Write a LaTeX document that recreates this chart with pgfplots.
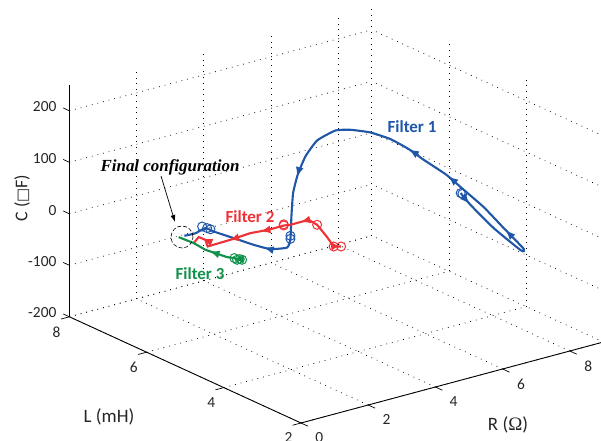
\documentclass[border=0pt]{standalone}
\usepackage{pgfplots}
\pgfplotsset{compat=1.18}
\usepackage{fontspec}
\setmainfont{Carlito}
\newfontfamily\timesf{Liberation Serif}
\newfontfamily\symf{DejaVu Sans}
\usetikzlibrary{decorations.markings,arrows.meta}
\definecolor{fblue}{HTML}{1F56A8}
\definecolor{fred}{HTML}{EE3338}
\definecolor{fgreen}{HTML}{11924B}
\tikzset{tk/.style={black,line width=0.7bp}}
\newcommand{\ah}{\arrow{Latex[length=10bp,width=8bp]}}
\begin{document}
\begin{tikzpicture}[x=1bp,y=1bp]
\path[use as bounding box] (0,0) rectangle (601,441);
\begin{axis}[
  at={(301bp,121bp)}, anchor=origin,
  x={(33.6bp,9bp)}, y={(-38.6bp,17.7bp)}, z={(0bp,0.515bp)},
  xmin=0, xmax=9, ymin=2, ymax=8, zmin=-200, zmax=250,
  xtick={0,2,4,6,8}, ytick={2,4,6,8}, ztick={-200,-100,0,100,200},
  axis lines*=left,
  tick align=outside,
  major tick length=6bp,
  major tick style={draw=none},
  axis line style={black,line width=0.9bp},
  grid=major,
  major grid style={black,line width=0.7bp,dash pattern=on 0.8bp off 5bp},
  clip=false,
  /pgf/number format/assume math mode=true,
  tick label style={font=\fontsize{15.5}{18}\selectfont,text=black!85},
  xticklabel style={xshift=7bp,yshift=-3.5bp},
  yticklabel style={yshift=-4.5bp},
  zticklabel style={xshift=-4bp},
  scaled ticks=false,
]
% ticks run along the walls, as MATLAB draws them
\pgfplotsinvokeforeach{0,2,4,6,8}{\addplot3[tk] coordinates {(#1,2,-200) (#1,1.82,-200)};}
\pgfplotsinvokeforeach{2,4,6,8}{\addplot3[tk] coordinates {(0,#1,-200) (-0.25,#1,-200)};}
\pgfplotsinvokeforeach{-200,-100,0,100,200}{\addplot3[tk] coordinates {(0,8,#1) (0,8.16,#1)};}
% Filter 1
\addplot3[fblue,line width=2.1bp,smooth,tension=0.3,no marks,
  postaction={decorate},decoration={markings,
    mark=at position 0.025 with {\ah},
    mark=at position 0.205 with {\ah},
    mark=at position 0.345 with {\ah},
    mark=at position 0.43 with {\ah},
    mark=at position 0.68 with {\ah},
    mark=at position 0.85 with {\ah}}]
  coordinates {
  (6.476,3.500,81.7) (6.637,3.389,60.0) (7.022,3.121,17.2) (7.476,2.805,-23.4)
  (7.519,2.776,-19.8) (7.188,3.006,18.3) (6.857,3.236,56.9) (6.526,3.466,88.4)
  (6.239,3.665,115.7) (5.864,3.926,142.4) (5.615,4.098,161.6) (5.313,4.309,179.1)
  (4.982,4.539,189.8) (4.651,4.769,192.9) (4.402,4.941,189.9) (4.099,5.151,168.6)
  (3.906,5.286,136.3) (3.778,5.375,99.9) (3.702,5.427,63.9) (3.674,5.447,18.3)
  (3.658,5.458,-25.1) (3.603,5.496,-42.4) (3.327,5.689,-47.2) (3.050,5.881,-40.7)
  (2.719,6.111,-29.8) (2.388,6.341,-19.1) (2.251,6.436,-13.3) (2.085,6.551,-24.5)
  (1.903,6.678,-30.5)};
\addplot3[only marks,mark=o,mark size=4.5bp,fblue,mark options={line width=1bp}]
  coordinates {(6.476,3.5,81.7) (6.504,3.481,80.5) (3.658,5.458,-25.1) (3.658,5.458,-19.3)
  (2.196,6.474,-10.6) (2.279,6.416,-13.2) (2.334,6.378,-15.1)};
% Filter 2
\addplot3[fred,line width=2.1bp,no marks,
  postaction={decorate},decoration={markings,
    mark=at position 0.09 with {\ah},
    mark=at position 0.31 with {\ah},
    mark=at position 0.55 with {\ah},
    mark=at position 0.74 with {\ah},
    mark=at position 0.93 with {\ah}}]
  coordinates {
  (4.497,4.875,-34.7) (4.374,4.961,-35.5) (4.265,5.036,-17.9) (4.099,5.151,4.9)
  (3.960,5.248,13.7) (3.658,5.458,2.1) (3.547,5.535,0) (3.298,5.708,-9.9)
  (2.996,5.918,-18.3) (2.665,6.149,-33.4) (2.289,6.410,-48.8) (2.251,6.436,-36.1)
  (2.140,6.513,-31.5) (2.057,6.571,-43.7)};
\addplot3[only marks,mark=o,mark size=4.5bp,fred,mark options={line width=1bp}]
  coordinates {(4.497,4.875,-34.7) (4.374,4.961,-35.5) (4.099,5.151,4.9)
  (3.547,5.535,0) (3.547,5.535,2.3)};
% Filter 3
\addplot3[fgreen,line width=2.1bp,no marks,
  postaction={decorate},decoration={markings,
    mark=at position 0.13 with {\ah},
    mark=at position 0.50 with {\ah}}]
  coordinates {
  (2.858,6.014,-71) (2.775,6.071,-71.5) (2.731,6.103,-68.5) (2.610,6.186,-67.4)
  (2.251,6.436,-55.5) (2.057,6.571,-43.7) (1.809,6.743,-33.7)};
\addplot3[only marks,mark=o,mark size=4.5bp,fgreen,mark options={line width=1bp}]
  coordinates {(2.858,6.014,-71) (2.775,6.071,-71.5) (2.731,6.103,-68.5) (2.82,6.04,-70)};
\end{axis}
% texts, picture coordinates are px from the bottom left
\node[text=black!85,font=\fontsize{19}{22}\selectfont] at (109,24) {L (mH)};
\node[text=black!85,font=\fontsize{19}{22}\selectfont] at (508,16) {R ({\timesf\symbol{"03A9}})};
\node[text=black!85,font=\fontsize{18}{21}\selectfont,rotate=90] at (22,243) {C ({\symf\fontsize{15}{17}\selectfont □}F)};
\node[font=\timesf\bfseries\itshape\fontsize{17}{20}\selectfont] at (170,274) {Final configuration};
\node[text=fblue,font=\bfseries\fontsize{17}{20}\selectfont] at (412,314) {Filter 1};
\node[text=fred,font=\bfseries\fontsize{17}{20}\selectfont] at (250,224) {Filter 2};
\node[text=fgreen,font=\bfseries\fontsize{17}{20}\selectfont] at (200,167) {Filter 3};
\draw[dash pattern=on 4bp off 2bp,line width=0.6bp] (182,204) circle (11);
\draw[-{Latex[length=7bp,width=5bp]},line width=0.7bp] (161,265) -- (175,219);
\end{tikzpicture}
\end{document}
